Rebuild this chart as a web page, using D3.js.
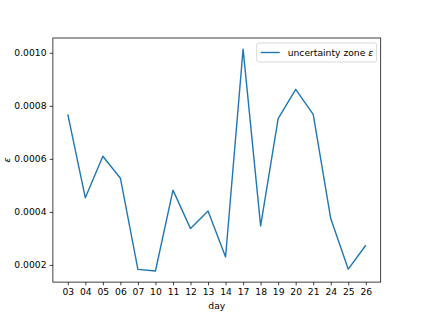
<!DOCTYPE html>
<html>
<head>
<meta charset="utf-8">
<script src="https://cdn.jsdelivr.net/npm/d3@7"></script>
<style>
    body { margin: 0; background: #fff; }
    text { font-family: "DejaVu Sans", sans-serif; }
</style>
</head>
<body>
<div id="chart"></div>
<script>
// days shown on the x axis (categorical)
const days = ["03", "04", "05", "06", "07", "10", "11", "12", "13", "14",
              "17", "18", "19", "20", "21", "24", "25", "26"];

// uncertainty zone epsilon per day
const epsilon = [0.000768, 0.000453, 0.000610, 0.000527, 0.000183, 0.000177,
                 0.000482, 0.000337, 0.000403, 0.000230, 0.001014, 0.000347,
                 0.000752, 0.000862, 0.000768, 0.000375, 0.000184, 0.000274];

const yTicks = [0.0002, 0.0004, 0.0006, 0.0008, 0.0010];

const width = 423, height = 317;
const margin = {top: 38, right: 42.3, bottom: 34.9, left: 52.9};
const innerW = width - margin.left - margin.right;
const innerH = height - margin.top - margin.bottom;
const color = "#1f77b4";
const fontSize = 9.2;

const svg = d3.select("#chart").append("svg")
    .attr("width", width)
    .attr("height", height);

const g = svg.append("g")
    .attr("transform", `translate(${margin.left}, ${margin.top})`);

// matplotlib-like 5% margins
const n = days.length;
const xPad = (n - 1) * 0.05;
const x = d3.scaleLinear()
    .domain([-xPad, n - 1 + xPad])
    .range([0, innerW]);

const [yMin, yMax] = d3.extent(epsilon);
const yPad = (yMax - yMin) * 0.05;
const y = d3.scaleLinear()
    .domain([yMin - yPad, yMax + yPad])
    .range([innerH, 0]);

// axes
const xAxis = d3.axisBottom(x)
    .tickValues(d3.range(n))
    .tickFormat(i => days[i])
    .tickSize(3.2)
    .tickPadding(3.2);

const yAxis = d3.axisLeft(y)
    .tickValues(yTicks)
    .tickFormat(d3.format(".4f"))
    .tickSize(3.2)
    .tickPadding(3.2);

const xg = g.append("g")
    .attr("transform", `translate(0, ${innerH})`)
    .call(xAxis);

const yg = g.append("g").call(yAxis);

[xg, yg].forEach(a => {
    a.select(".domain").remove();
    a.selectAll(".tick line").attr("stroke", "#000").attr("stroke-width", 0.75);
    a.selectAll(".tick text")
        .attr("fill", "#000")
        .style("font-size", fontSize + "px")
        .style("font-family", "DejaVu Sans");
});

// line
const line = d3.line()
    .x((d, i) => x(i))
    .y(d => y(d));

g.append("path")
    .datum(epsilon)
    .attr("fill", "none")
    .attr("stroke", color)
    .attr("stroke-width", 1.4)
    .attr("stroke-linejoin", "round")
    .attr("d", line);

// frame
g.append("rect")
    .attr("width", innerW)
    .attr("height", innerH)
    .attr("fill", "none")
    .attr("stroke", "#000")
    .attr("stroke-width", 0.75);

// axis labels
g.append("text")
    .attr("x", innerW / 2)
    .attr("y", innerH + 27)
    .attr("text-anchor", "middle")
    .style("font-size", fontSize + "px")
    .text("day");

svg.append("text")
    .attr("transform", `translate(10, ${margin.top + innerH / 2}) rotate(-90)`)
    .attr("text-anchor", "middle")
    .style("font-size", fontSize + "px")
    .style("font-style", "italic")
    .text("ε");

// legend
const legend = g.append("g")
    .attr("transform", `translate(${innerW - 124}, 5)`);

legend.append("rect")
    .attr("width", 120)
    .attr("height", 19)
    .attr("rx", 2)
    .attr("fill", "#fff")
    .attr("fill-opacity", 0.8)
    .attr("stroke", "#ccc")
    .attr("stroke-width", 0.75);

legend.append("line")
    .attr("x1", 4).attr("x2", 23)
    .attr("y1", 9.5).attr("y2", 9.5)
    .attr("stroke", color)
    .attr("stroke-width", 1.4);

const lt = legend.append("text")
    .attr("x", 31)
    .attr("y", 12.8)
    .style("font-size", fontSize + "px");
lt.append("tspan").text("uncertainty zone ");
lt.append("tspan").style("font-style", "italic").text("ε");
</script>
</body>
</html>
